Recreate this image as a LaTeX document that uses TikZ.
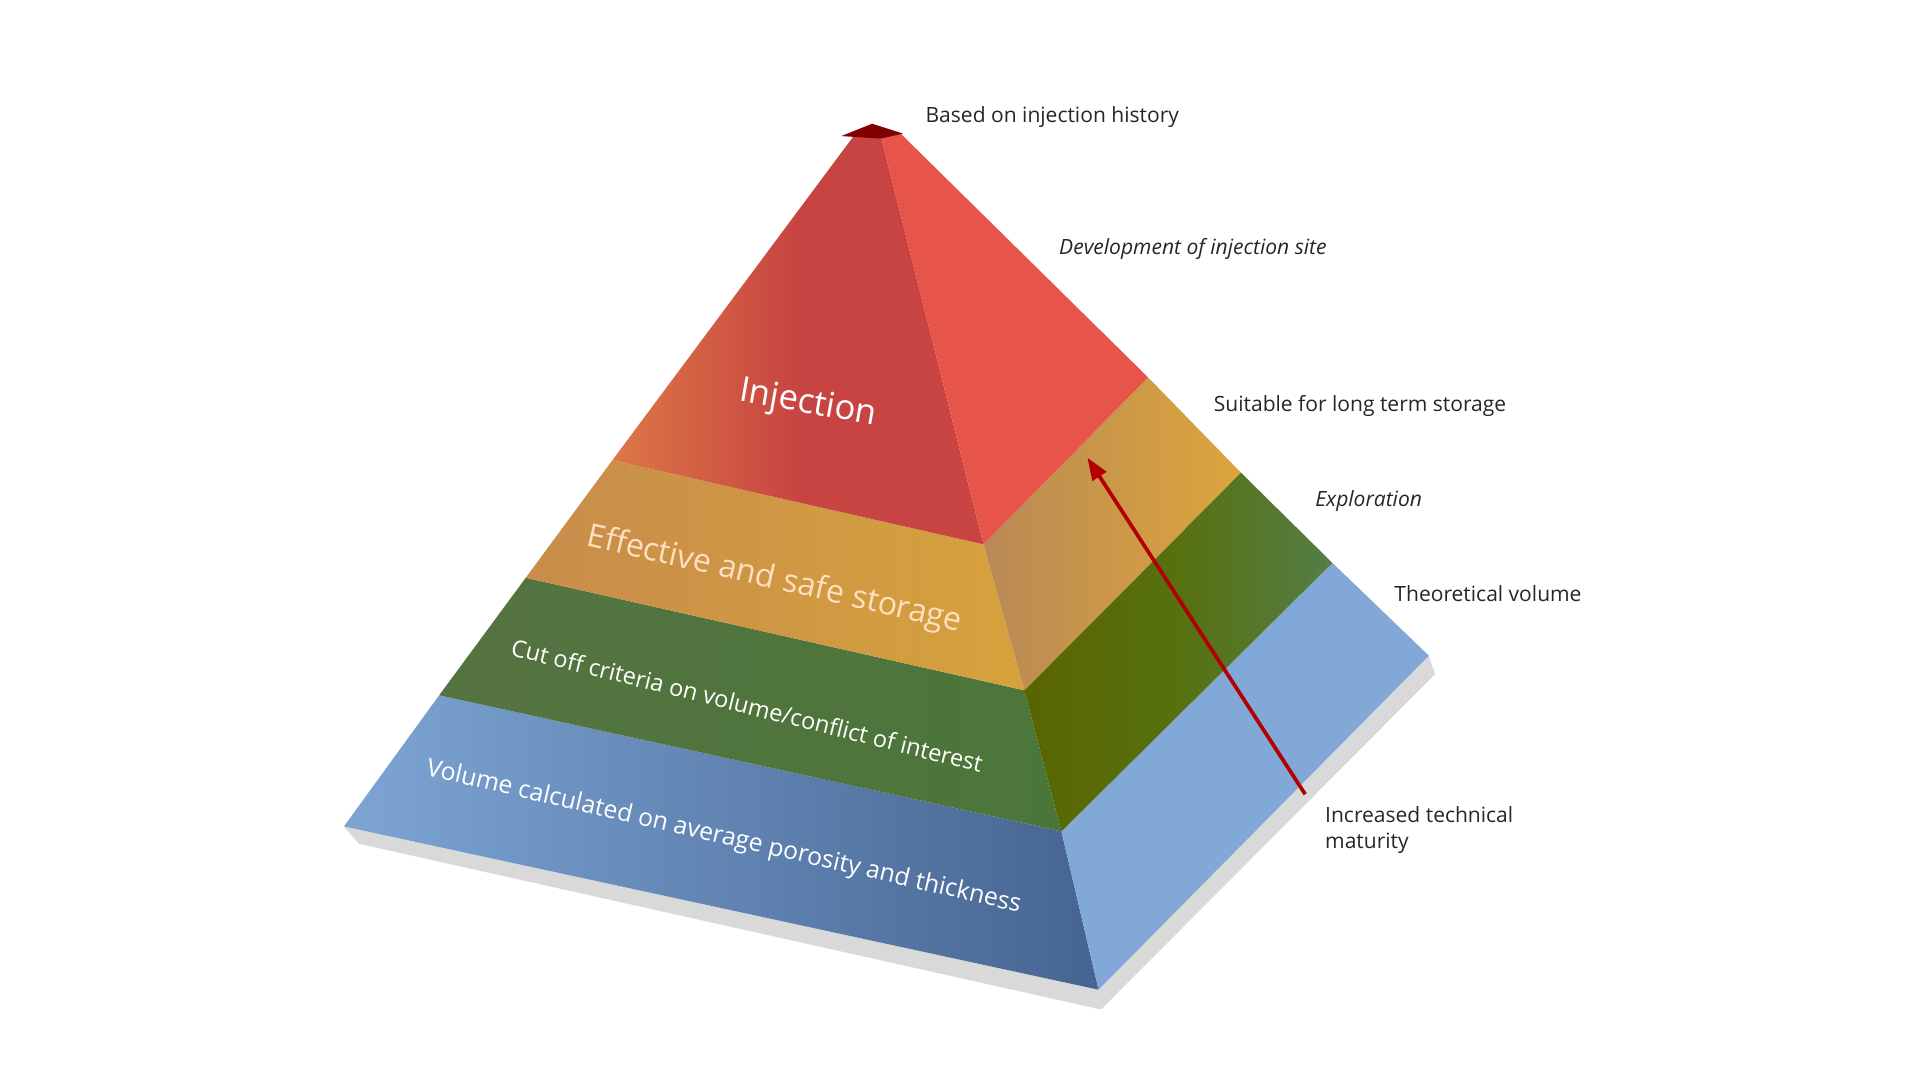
\documentclass[tikz,border=0pt]{standalone}
\usepackage{fontspec}
\setmainfont{Open Sans}
\usetikzlibrary{arrows.meta}
\definecolor{redL}{RGB}{200,68,66}
\definecolor{redR}{RGB}{230,84,74}
\definecolor{redO}{RGB}{220,120,70}
\definecolor{orL}{RGB}{200,140,75}
\definecolor{orM}{RGB}{214,162,60}
\definecolor{orR}{RGB}{220,165,60}
\definecolor{grL}{RGB}{85,115,65}
\definecolor{grM}{RGB}{75,118,58}
\definecolor{grR}{RGB}{85,125,70}
\definecolor{blL}{RGB}{125,165,212}
\definecolor{blM}{RGB}{70,100,145}
\definecolor{blR}{RGB}{130,168,215}
\begin{document}
\begin{tikzpicture}[x=1pt,y=-1pt,
  lab/.style={anchor=west,font=\fontsize{17}{21}\selectfont,text=black!85,inner sep=0pt},
  facelab/.style={text=white,inner sep=0pt}]
\useasboundingbox (0,0) rectangle (1552,873);
% shadow
\fill[black!15] (278,668) -- (290,682) -- (890,816) -- (1160,545) -- (1155,530) -- (888,800) -- cycle;
% left face layers
\shade[left color=blL, right color=blM] (278,668) -- (355,562) -- (858,672) -- (888,800) -- cycle;
\shade[left color=grL, right color=grM] (355,562) -- (425,467) -- (828,558) -- (858,672) -- cycle;
\shade[left color=orL, right color=orM] (425,467) -- (495,372) -- (795,440) -- (828,558) -- cycle;
\shade[left color=redO, right color=redL, middle color=redL] (495,372) -- (690,110) -- (712,110) -- (795,440) -- cycle;
% right face layers
\fill[blR] (888,800) -- (858,672) -- (1077,455) -- (1155,530) -- cycle;
\shade[left color=olive!60!grR!80!black, right color=grR] (858,672) -- (828,558) -- (1003,382) -- (1077,455) -- cycle;
\shade[left color=orL!80!gray, right color=orR] (828,558) -- (795,440) -- (928,305) -- (1003,382) -- cycle;
\fill[redR] (795,440) -- (712,110) -- (728,108) -- (928,305) -- cycle;
% apex
\fill[red!50!black] (680,110) -- (705,100) -- (730,108) -- (712,112) -- cycle;
% face labels
\node[facelab,font=\fontsize{28}{30}\selectfont,rotate=-10] (inj) at (653,327) {Injection};
\node[facelab,text=orange!25!white,font=\fontsize{26}{30}\selectfont,rotate=-13] (eff) at (626,469) {Effective and safe storage};
\node[facelab,font=\fontsize{19}{24}\selectfont,rotate=-14] (cut) at (604,570) {Cut off criteria on volume/conflict of interest};
\node[facelab,font=\fontsize{20}{24}\selectfont,rotate=-13] (vol) at (585,677) {Volume calculated on average porosity and thickness};
% right labels
\node[lab] (l1) at (748,95) {Based on injection history};
\node[lab,font=\fontsize{17}{21}\selectfont\itshape] (l2) at (856,201) {Development of injection site};
\node[lab] (l3) at (981,328) {Suitable for long term storage};
\node[lab,font=\fontsize{17}{21}\selectfont\itshape] (l4) at (1063,405) {Exploration};
\node[lab] (l5) at (1127,480) {Theoretical volume};
\node[lab,align=left] (l6) at (1071,671) {Increased technical\\maturity};
% arrow
\coordinate (as) at (1055,642);
\coordinate (ae) at (879,370);
\draw[red!70!black,line width=3pt,-{Triangle[length=18pt,width=13pt]}] (as) -- (ae);
\end{tikzpicture}
\end{document}
